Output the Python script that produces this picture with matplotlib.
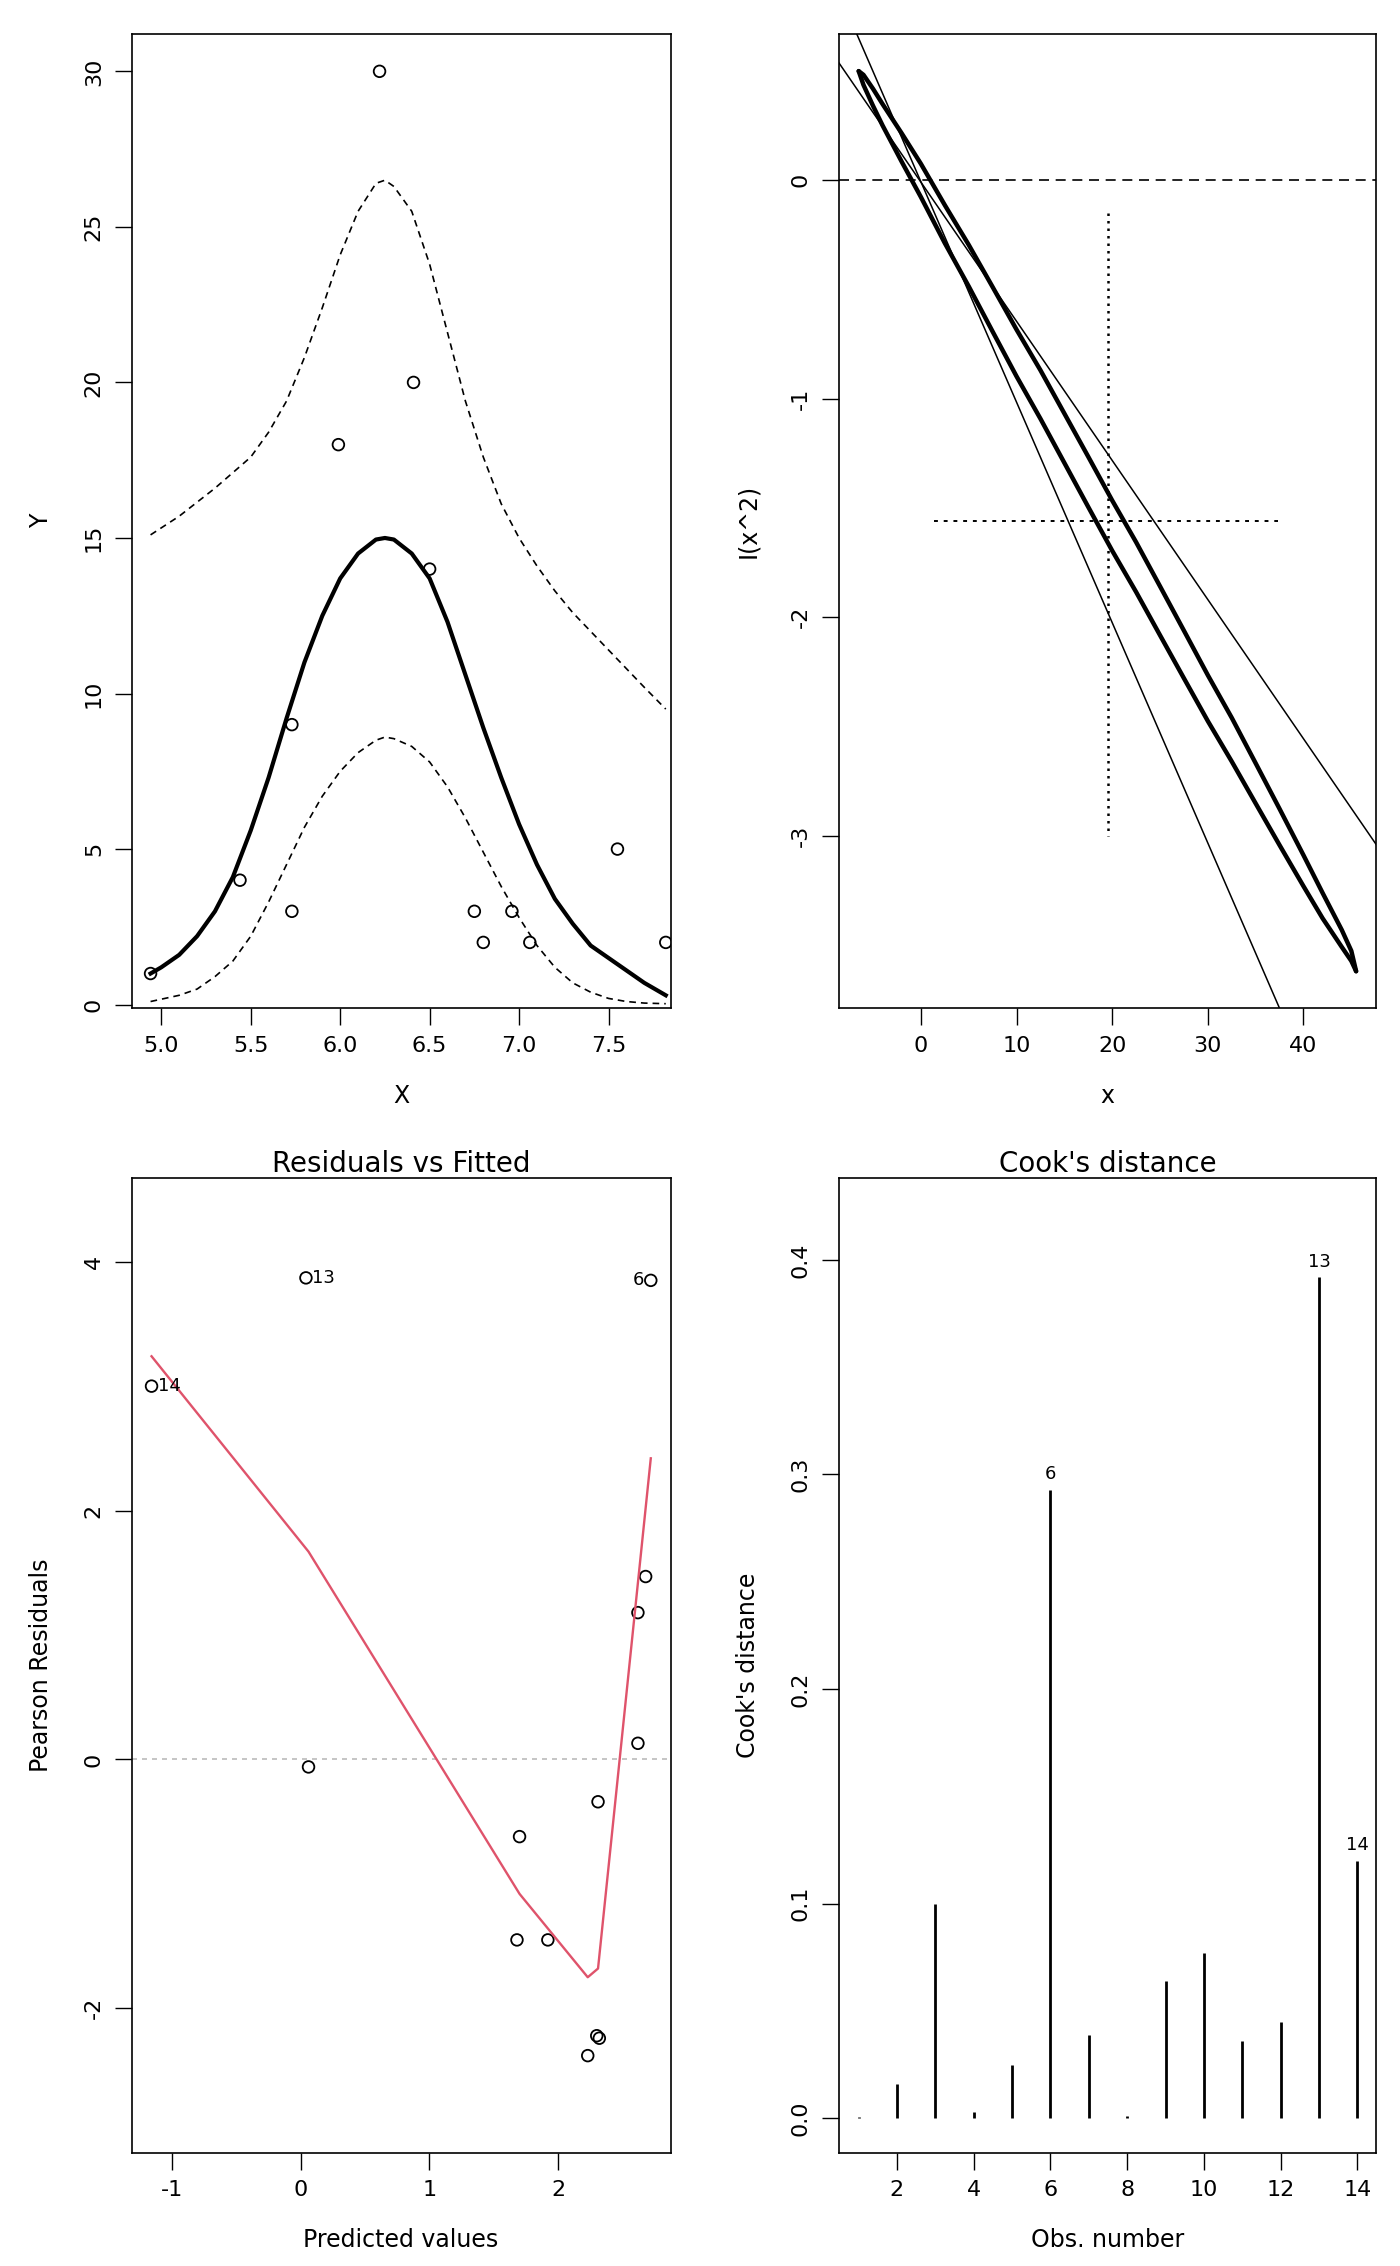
import matplotlib
matplotlib.use("Agg")
import matplotlib.pyplot as plt

# panel 1: data and fitted curve with bands
obs_x = [4.94, 5.44, 5.73, 5.73, 5.99, 6.22, 6.41, 6.50, 6.75, 6.80, 6.96, 7.06, 7.55, 7.82]
obs_y = [1, 4, 9, 3, 18, 30, 20, 14, 3, 2, 3, 2, 5, 2]
fit_x = [4.94, 5.0, 5.1, 5.2, 5.3, 5.4, 5.5, 5.6, 5.7, 5.8, 5.9, 6.0, 6.1, 6.2, 6.25, 6.3,
         6.4, 6.5, 6.6, 6.7, 6.8, 6.9, 7.0, 7.1, 7.2, 7.3, 7.4, 7.5, 7.6, 7.7, 7.82]
fit_y = [1.0, 1.2, 1.6, 2.2, 3.0, 4.1, 5.6, 7.3, 9.2, 11.0, 12.5, 13.7, 14.5, 14.95, 15.0, 14.95,
         14.5, 13.7, 12.3, 10.6, 8.9, 7.3, 5.8, 4.5, 3.4, 2.6, 1.9, 1.5, 1.1, 0.7, 0.3]
upper_x = [4.94, 5.1, 5.3, 5.5, 5.6, 5.7, 5.8, 5.9, 6.0, 6.1, 6.2, 6.25, 6.3, 6.4, 6.5,
           6.6, 6.7, 6.8, 6.9, 7.0, 7.1, 7.2, 7.3, 7.4, 7.5, 7.6, 7.7, 7.82]
upper_y = [15.1, 15.7, 16.6, 17.6, 18.4, 19.4, 20.8, 22.4, 24.1, 25.5, 26.4, 26.5, 26.3, 25.5, 23.8,
           21.6, 19.4, 17.6, 16.1, 15.0, 14.1, 13.3, 12.6, 12.0, 11.4, 10.8, 10.2, 9.5]
lower_x = [4.94, 5.1, 5.2, 5.3, 5.4, 5.5, 5.6, 5.7, 5.8, 5.9, 6.0, 6.1, 6.2, 6.25, 6.3,
           6.4, 6.5, 6.6, 6.7, 6.8, 6.9, 7.0, 7.1, 7.2, 7.3, 7.4, 7.5, 7.6, 7.7, 7.82]
lower_y = [0.1, 0.3, 0.5, 0.9, 1.4, 2.2, 3.3, 4.5, 5.7, 6.7, 7.5, 8.1, 8.5, 8.6, 8.55,
           8.3, 7.8, 7.0, 6.0, 4.9, 3.8, 2.8, 1.9, 1.2, 0.7, 0.4, 0.2, 0.1, 0.05, 0.03]

# panel 2: confidence ellipse for (x, I(x^2))
ell_x = [-6.5, -6, -5, -4, -2, 0, 2.5, 5, 7.5, 10, 12.5, 15, 17.5, 20, 22.5, 25, 27.5,
         30, 32.5, 35, 37.5, 40, 42, 44, 45, 45.5]
ell_up = [0.5, 0.483, 0.419, 0.349, 0.215, 0.076, -0.113, -0.295, -0.488, -0.683, -0.869, -1.067,
          -1.265, -1.465, -1.656, -1.858, -2.061, -2.265, -2.46, -2.668, -2.877, -3.089, -3.262,
          -3.431, -3.527, -3.62]
ell_lo = [0.5, 0.437, 0.341, 0.251, 0.085, -0.076, -0.287, -0.485, -0.692, -0.897, -1.091, -1.293,
          -1.495, -1.695, -1.884, -2.082, -2.279, -2.475, -2.66, -2.852, -3.043, -3.231, -3.378,
          -3.509, -3.573, -3.62]
line_a = ([-6.7, 37.5], [0.67, -3.79])
line_b = ([-8.6, 47.6], [0.54, -3.04])
ci_x = [1.4, 37.3]
ci_y = [-0.15, -3.0]
est = (19.6, -1.56)

# panel 3: residuals vs fitted
pred = [-1.16, 0.04, 2.72, 0.06, 1.70, 1.68, 1.92, 2.31, 2.62, 2.62, 2.68, 2.30, 2.32, 2.23]
resid = [3.0, 3.87, 3.85, -0.06, -0.62, -1.45, -1.45, -0.34, 0.13, 1.18, 1.47, -2.22, -2.24, -2.38]
resid_lab = ["14", "13", "6"] + [""] * 11
smooth_x = [-1.16, 0.06, 1.70, 2.23, 2.31, 2.72]
smooth_y = [3.24, 1.67, -1.08, -1.75, -1.68, 2.42]

# panel 4: cook's distance
obs_no = list(range(1, 15))
cooks = [0.0005, 0.016, 0.10, 0.003, 0.025, 0.293, 0.039, 0.001, 0.064, 0.077, 0.036, 0.045, 0.392, 0.12]

fig = plt.figure(figsize=(14, 22.66), dpi=100)
boxes = [[0.094, 0.555, 0.385, 0.43], [0.599, 0.555, 0.384, 0.43],
         [0.094, 0.05, 0.385, 0.43], [0.599, 0.05, 0.384, 0.43]]
axs = [fig.add_axes(b) for b in boxes]


def style(ax, xlabel, ylabel, title=None):
    ax.tick_params(direction="out", length=12, width=1, labelsize=16, pad=8)
    for lab in ax.get_yticklabels():
        lab.set_rotation(90)
        lab.set_va("center")
    for s in ax.spines.values():
        s.set_linewidth(1.2)
    ax.set_xlabel(xlabel, fontsize=17, labelpad=20)
    ax.set_ylabel(ylabel, fontsize=17, labelpad=22)
    if title:
        ax.set_title(title, fontsize=20, pad=4)


ax = axs[0]
ax.scatter(obs_x, obs_y, s=70, facecolors="none", edgecolors="black", linewidths=1.3)
ax.plot(fit_x, fit_y, color="black", lw=3)
ax.plot(upper_x, upper_y, color="black", lw=1.2, ls=(0, (4, 3)))
ax.plot(lower_x, lower_y, color="black", lw=1.2, ls=(0, (4, 3)))
ax.set_xlim(4.834, 7.847)
ax.set_ylim(-0.12, 31.2)
ax.set_xticks([5.0, 5.5, 6.0, 6.5, 7.0, 7.5])
ax.set_xticklabels(["5.0", "5.5", "6.0", "6.5", "7.0", "7.5"])
ax.set_yticks([0, 5, 10, 15, 20, 25, 30])
style(ax, "X", "Y")

ax = axs[1]
ax.plot(ell_x, ell_up, color="black", lw=3.2, solid_capstyle="round", solid_joinstyle="round")
ax.plot(ell_x, ell_lo, color="black", lw=3.2, solid_capstyle="round", solid_joinstyle="round")
ax.plot(*line_a, color="black", lw=1.1)
ax.plot(*line_b, color="black", lw=1.1)
ax.axhline(0, color="black", lw=1.2, ls=(0, (6, 4)))
ax.plot([est[0], est[0]], ci_y, color="black", lw=1.8, ls=(0, (1, 2)))
ax.plot(ci_x, [est[1], est[1]], color="black", lw=1.4, ls=(0, (2, 3)))
ax.set_xlim(-8.6, 47.6)
ax.set_ylim(-3.79, 0.67)
ax.set_xticks([0, 10, 20, 30, 40])
ax.set_yticks([-3, -2, -1, 0])
ax.set_yticklabels(["-3", "-2", "-1", "0"])
style(ax, "x", "I(x^2)")

ax = axs[2]
ax.scatter(pred, resid, s=70, facecolors="none", edgecolors="black", linewidths=1.3)
for px, py, lab in zip(pred, resid, resid_lab):
    if lab == "6":
        ax.text(px - 0.05, py, lab, fontsize=13, ha="right", va="center")
    elif lab:
        ax.text(px + 0.05, py, lab, fontsize=13, ha="left", va="center")
ax.axhline(0, color="#bbbbbb", lw=1.2, ls=(0, (3, 3)))
ax.plot(smooth_x, smooth_y, color="#DF536B", lw=1.7)
ax.set_xlim(-1.315, 2.874)
ax.set_ylim(-3.16, 4.67)
ax.set_xticks([-1, 0, 1, 2])
ax.set_xticklabels(["-1", "0", "1", "2"])
ax.set_yticks([-2, 0, 2, 4])
ax.set_yticklabels(["-2", "0", "2", "4"])
style(ax, "Predicted values", "Pearson Residuals", "Residuals vs Fitted")

ax = axs[3]
ax.vlines(obs_no, 0, cooks, color="black", lw=2)
for i in (6, 13, 14):
    ax.text(i, cooks[i - 1] + 0.003, str(i), fontsize=13, ha="center", va="bottom")
ax.set_xlim(0.48, 14.49)
ax.set_ylim(-0.016, 0.438)
ax.set_xticks([2, 4, 6, 8, 10, 12, 14])
ax.set_yticks([0.0, 0.1, 0.2, 0.3, 0.4])
ax.set_yticklabels(["0.0", "0.1", "0.2", "0.3", "0.4"])
style(ax, "Obs. number", "Cook's distance", "Cook's distance")

fig.savefig("out.png", dpi=100)
